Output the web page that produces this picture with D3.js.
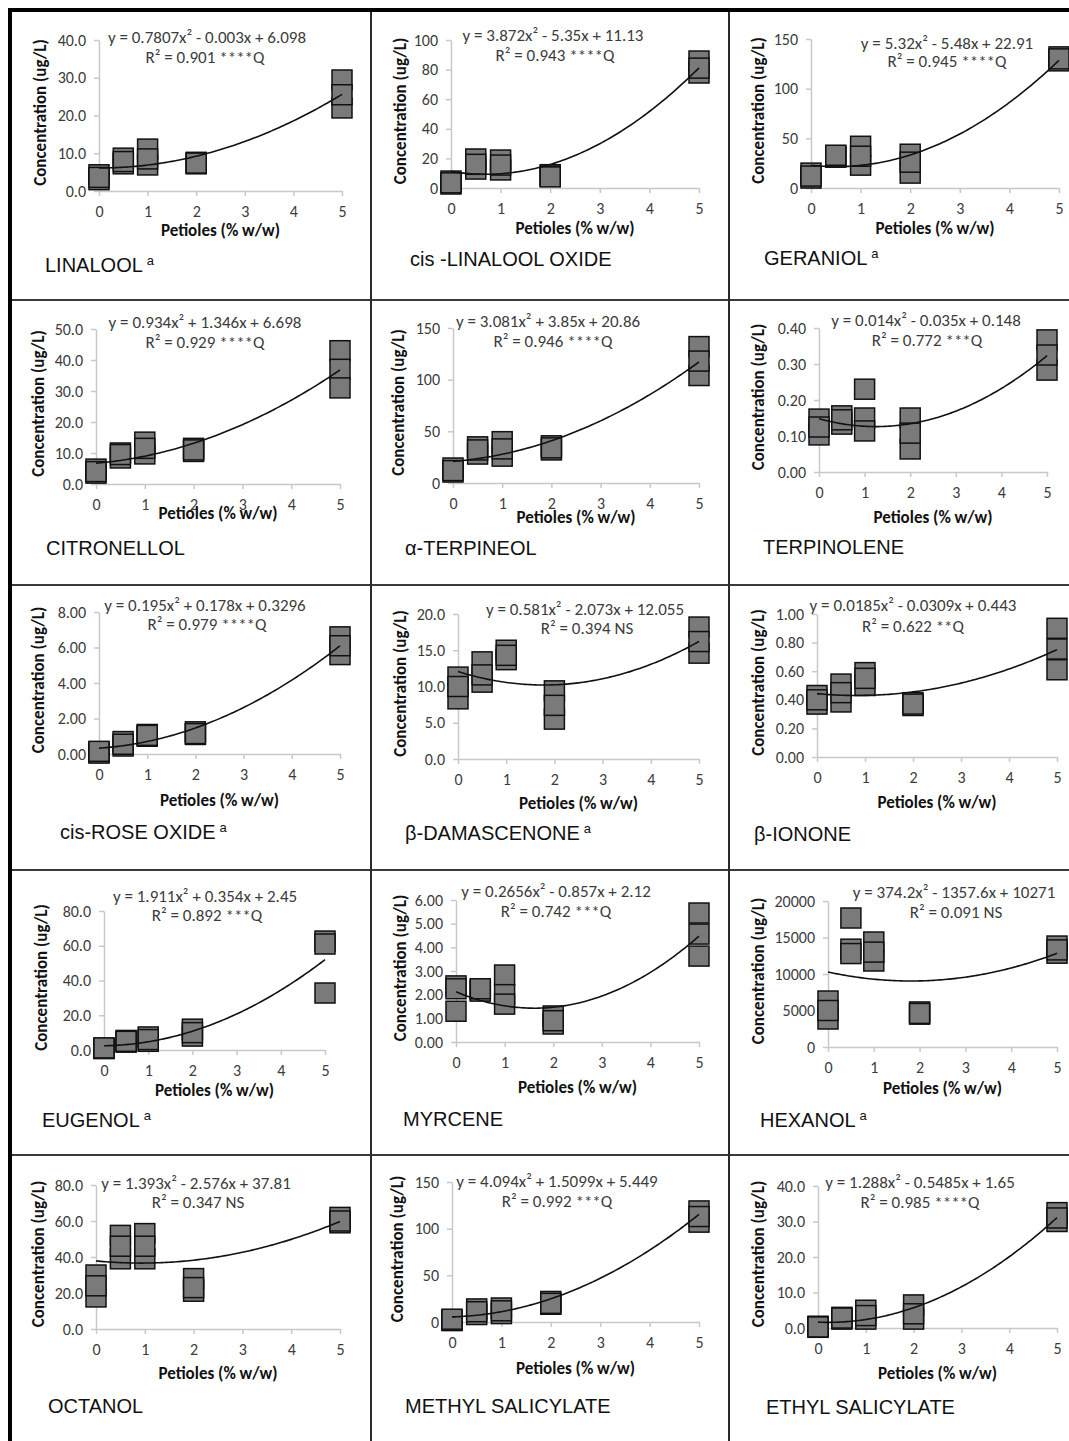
<!DOCTYPE html>
<html>
<head>
<meta charset="utf-8">
<script src="https://cdn.jsdelivr.net/npm/d3@7"></script>
<style>
  body { margin: 0; background: #fff; }
</style>
</head>
<body>
<svg id="fig" width="1069" height="1441"></svg>
<script>
// Petiole additions (% w/w) and the three replicate concentrations at each level
const doses = [0, 0.5, 1, 2, 5];

const compounds = [
  "LINALOOL", "cis -LINALOOL OXIDE", "GERANIOL",
  "CITRONELLOL", "\u03b1-TERPINEOL", "TERPINOLENE",
  "cis-ROSE OXIDE", "\u03b2-DAMASCENONE", "\u03b2-IONONE",
  "EUGENOL", "MYRCENE", "HEXANOL",
  "OCTANOL", "METHYL SALICYLATE", "ETHYL SALICYLATE"
];
const footnoteA = [true, false, true, false, false, false, true, true, false, true, false, true, false, false, false];

const linalool      = [[4.3, 3.0, 3.6], [8.7, 7.2, 7.8], [11.1, 6.9, 8.5], [7.6, 7.2, 7.4], [29.4, 22.0, 25.5]];
const linaloolOxide = [[4.7, 2.7, 3.5], [19.6, 12.8, 16.0], [18.9, 12.2, 15.5], [9.0, 8.0, 7.5], [85.8, 77.7, 81.0]];
const geraniol      = [[15, 10, 12], [32, 31, 33], [42, 23, 32], [34, 15, 26], [132, 128, 130]];
const citronellol   = [[4.8, 3.5, 4.0], [10.0, 8.4, 9.5], [13.5, 9.7, 11.5], [11.5, 10.5, 11.0], [43, 37, 31]];
const terpineol     = [[14.5, 10.6, 12], [35, 28, 32], [40, 26, 33], [36, 32, 34], [132, 104, 118]];
const terpinolene   = [[0.147, 0.103, 0.125], [0.156, 0.133, 0.145], [0.23, 0.15, 0.114], [0.15, 0.064, 0.108], [0.367, 0.283, 0.325]];
const roseOxide     = [[0.1, 0.05, 0.15], [0.7, 0.45, 0.55], [1.1, 1.0, 1.05], [1.25, 1.1, 1.15], [6.6, 5.6, 6.1]];
const damascenone   = [[11.3, 8.3, 10.0], [13.4, 10.6, 11.6], [15.0, 13.7, 14.3], [9.4, 5.5, 7.4], [18.2, 14.6, 16.2]];
const ionone        = [[0.43, 0.37, 0.40], [0.51, 0.385, 0.45], [0.59, 0.50, 0.55], [0.38, 0.36, 0.37], [0.90, 0.755, 0.61]];
const eugenol       = [[1.0, 0.8, 1.2], [5.5, 4.5, 5.0], [7.5, 5.0, 6.0], [12, 8, 10], [62.7, 61.0, 32.8]];
const myrcene       = [[2.37, 2.25, 1.3], [2.2, 2.15, 2.25], [2.83, 2.0, 1.6], [1.1, 0.76, 0.9], [5.45, 4.56, 3.63]];
const hexanol       = [[6300, 3835, 5000], [17670, 13400, 12800], [14380, 11780, 13000], [4800, 4500, 4600], [13830, 12850, 13300]];
const octanol       = [[30, 17.8, 24], [52, 39, 46], [53, 39, 46], [28, 21, 23], [62, 59, 60]];
const methylSal     = [[2, 1.5, 3], [14, 8, 11], [15, 9, 12], [22, 19, 20], [119, 107, 113]];
const ethylSal      = [[0.5, 0.2, 0.3], [3.0, 2.5, 2.8], [5.0, 2.5, 3.5], [6.5, 2.5, 4.0], [32.5, 30, 31]];

const replicates = [linalool, linaloolOxide, geraniol, citronellol, terpineol, terpinolene,
  roseOxide, damascenone, ionone, eugenol, myrcene, hexanol, octanol, methylSal, ethylSal];

// Quadratic fit coefficients [a, b, c] for y = a x^2 + b x + c
const coefficients = [
  [0.7807, -0.003, 6.098], [3.872, -5.35, 11.13], [5.32, -5.48, 22.91],
  [0.934, 1.346, 6.698], [3.081, 3.85, 20.86], [0.014, -0.035, 0.148],
  [0.195, 0.178, 0.3296], [0.581, -2.073, 12.055], [0.0185, -0.0309, 0.443],
  [1.911, 0.354, 2.45], [0.2656, -0.857, 2.12], [374.2, -1357.6, 10271],
  [1.393, -2.576, 37.81], [4.094, 1.5099, 5.449], [1.288, -0.5485, 1.65]
];
const equations = [
  "y = 0.7807x\u00b2 - 0.003x + 6.098", "y = 3.872x\u00b2 - 5.35x + 11.13", "y = 5.32x\u00b2 - 5.48x + 22.91",
  "y = 0.934x\u00b2 + 1.346x + 6.698", "y = 3.081x\u00b2 + 3.85x + 20.86", "y = 0.014x\u00b2 - 0.035x + 0.148",
  "y = 0.195x\u00b2 + 0.178x + 0.3296", "y = 0.581x\u00b2 - 2.073x + 12.055", "y = 0.0185x\u00b2 - 0.0309x + 0.443",
  "y = 1.911x\u00b2 + 0.354x + 2.45", "y = 0.2656x\u00b2 - 0.857x + 2.12", "y = 374.2x\u00b2 - 1357.6x + 10271",
  "y = 1.393x\u00b2 - 2.576x + 37.81", "y = 4.094x\u00b2 + 1.5099x + 5.449", "y = 1.288x\u00b2 - 0.5485x + 1.65"
];
const fitStats = [
  "R\u00b2 = 0.901 ****Q", "R\u00b2 = 0.943 ****Q", "R\u00b2 = 0.945 ****Q",
  "R\u00b2 = 0.929 ****Q", "R\u00b2 = 0.946 ****Q", "R\u00b2 = 0.772 ***Q",
  "R\u00b2 = 0.979 ****Q", "R\u00b2 = 0.394 NS", "R\u00b2 = 0.622 **Q",
  "R\u00b2 = 0.892 ***Q", "R\u00b2 = 0.742 ***Q", "R\u00b2 = 0.091 NS",
  "R\u00b2 = 0.347 NS", "R\u00b2 = 0.992 ***Q", "R\u00b2 = 0.985 ****Q"
];

// y-axis tick values and their label formats
const yTicks = [
  [0, 10, 20, 30, 40], [0, 20, 40, 60, 80, 100], [0, 50, 100, 150],
  [0, 10, 20, 30, 40, 50], [0, 50, 100, 150], [0, 0.1, 0.2, 0.3, 0.4],
  [0, 2, 4, 6, 8], [0, 5, 10, 15, 20], [0, 0.2, 0.4, 0.6, 0.8, 1.0],
  [0, 20, 40, 60, 80], [0, 1, 2, 3, 4, 5, 6], [0, 5000, 10000, 15000, 20000],
  [0, 20, 40, 60, 80], [0, 50, 100, 150], [0, 10, 20, 30, 40]
];
const yFormats = [".1f", "d", "d", ".1f", "d", ".2f", ".2f", ".1f", ".2f", ".1f", ".2f", "d", ".1f", "d", ".1f"];
const xTicks = [0, 1, 2, 3, 4, 5];

// Panel geometry: plot frame in page pixels and text anchors
const panelLayout = [
  { left: 99,  right: 342,  bottom: 191,  top: 40,   yTitleX: 40,  xTitleY: 230,  eq: [207, 37],   r2: [205, 57],   name: [45, 265] },
  { left: 451, right: 699,  bottom: 188,  top: 40,   yTitleX: 400, xTitleY: 228,  eq: [553, 35],   r2: [555, 55],   name: [410, 259] },
  { left: 811, right: 1059, bottom: 188,  top: 39,   yTitleX: 758, xTitleY: 228,  eq: [947, 43],   r2: [947, 61],   name: [764, 258] },
  { left: 96,  right: 340,  bottom: 484,  top: 329,  yTitleX: 38,  xTitleY: 513,  eq: [205, 322],  r2: [205, 342],  name: [46, 548] },
  { left: 453, right: 699,  bottom: 483,  top: 328,  yTitleX: 398, xTitleY: 517,  eq: [548, 321],  r2: [553, 341],  name: [405, 548] },
  { left: 819, right: 1047, bottom: 472,  top: 328,  yTitleX: 758, xTitleY: 517,  eq: [926, 320],  r2: [927, 340],  name: [763, 547] },
  { left: 99,  right: 340,  bottom: 754,  top: 612,  yTitleX: 38,  xTitleY: 800,  eq: [205, 605],  r2: [207, 624],  name: [60, 832] },
  { left: 458, right: 699,  bottom: 759,  top: 614,  yTitleX: 400, xTitleY: 803,  eq: [585, 609],  r2: [587, 628],  name: [405, 833] },
  { left: 817, right: 1057, bottom: 757,  top: 614,  yTitleX: 758, xTitleY: 802,  eq: [913, 605],  r2: [913, 626],  name: [754, 834] },
  { left: 104, right: 325,  bottom: 1050, top: 911,  yTitleX: 41,  xTitleY: 1090, eq: [205, 896],  r2: [207, 915],  name: [42, 1120] },
  { left: 456, right: 699,  bottom: 1042, top: 900,  yTitleX: 400, xTitleY: 1087, eq: [556, 891],  r2: [556, 911],  name: [403, 1119] },
  { left: 828, right: 1057, bottom: 1047, top: 901,  yTitleX: 758, xTitleY: 1088, eq: [954, 892],  r2: [956, 912],  name: [760, 1120] },
  { left: 96,  right: 340,  bottom: 1329, top: 1185, yTitleX: 38,  xTitleY: 1373, eq: [196, 1183], r2: [198, 1202], name: [48, 1406] },
  { left: 452, right: 699,  bottom: 1322, top: 1182, yTitleX: 397, xTitleY: 1368, eq: [557, 1181], r2: [557, 1201], name: [405, 1406] },
  { left: 818, right: 1057, bottom: 1328, top: 1186, yTitleX: 758, xTitleY: 1373, eq: [920, 1182], r2: [920, 1202], name: [766, 1407] }
];

const svg = d3.select("#fig");
const calibri = "Carlito, Lato, 'Open Sans', sans-serif";
const arial = "'Liberation Sans', Arial, sans-serif";
const markerSize = 20;

// Grid frame around the fifteen panels
const frame = svg.append("g");
[300, 585, 870, 1155].forEach(y =>
  frame.append("line").attr("x1", 10).attr("x2", 1069).attr("y1", y).attr("y2", y)
    .attr("stroke", "#3a3a3a").attr("stroke-width", 2));
[371, 729].forEach(x =>
  frame.append("line").attr("x1", x).attr("x2", x).attr("y1", 10).attr("y2", 1441)
    .attr("stroke", "#2a2a2a").attr("stroke-width", 2));
frame.append("line").attr("x1", 10).attr("x2", 10).attr("y1", 9).attr("y2", 1441)
  .attr("stroke", "#000").attr("stroke-width", 4);
frame.append("line").attr("x1", 8).attr("x2", 1069).attr("y1", 10).attr("y2", 10)
  .attr("stroke", "#000").attr("stroke-width", 4);

compounds.forEach((name, i) => {
  const L = panelLayout[i];
  const ticks = yTicks[i];
  const x = d3.scaleLinear().domain([0, 5]).range([L.left, L.right]);
  const y = d3.scaleLinear().domain([0, ticks[ticks.length - 1]]).range([L.bottom, L.top]);
  const g = svg.append("g");

  // axes
  const yAxis = g.append("g").attr("transform", `translate(${L.left},0)`)
    .call(d3.axisLeft(y).tickValues(ticks).tickFormat(d3.format(yFormats[i]))
      .tickSize(5).tickSizeOuter(0).tickPadding(8));
  const xAxis = g.append("g").attr("transform", `translate(0,${L.bottom})`)
    .call(d3.axisBottom(x).tickValues(xTicks).tickFormat(d3.format("d"))
      .tickSize(5).tickSizeOuter(0).tickPadding(10));
  [yAxis, xAxis].forEach(a => {
    a.select(".domain").attr("stroke", "#c8c8c8").attr("stroke-width", 1.5);
    a.selectAll(".tick line").attr("stroke", "#c8c8c8").attr("stroke-width", 1.5);
    a.selectAll(".tick text").attr("font-family", calibri).attr("font-size", 16).attr("fill", "#3c3c3c");
  });

  // axis titles
  g.append("text")
    .attr("transform", `translate(${L.yTitleX},${(L.top + L.bottom) / 2 - 3}) rotate(-90)`)
    .attr("text-anchor", "middle").attr("dominant-baseline", "central")
    .attr("font-family", calibri).attr("font-weight", "bold").attr("font-size", 17)
    .attr("fill", "#111").text("Concentration (ug/L)");
  g.append("text")
    .attr("x", (L.left + L.right) / 2).attr("y", L.xTitleY)
    .attr("text-anchor", "middle").attr("dominant-baseline", "central")
    .attr("font-family", calibri).attr("font-weight", "bold").attr("font-size", 17)
    .attr("fill", "#111").text("Petioles (% w/w)");

  // replicate markers
  const points = [];
  replicates[i].forEach((vals, k) => vals.forEach(v => points.push({ d: doses[k], v })));
  g.append("g").selectAll("rect").data(points).join("rect")
    .attr("x", p => x(p.d) - markerSize / 2)
    .attr("y", p => y(p.v) - markerSize / 2)
    .attr("width", markerSize).attr("height", markerSize)
    .attr("fill", "#7a7a7a").attr("stroke", "#111").attr("stroke-width", 1.5);

  // quadratic trend line from the fitted coefficients
  const [a, b, c] = coefficients[i];
  const curve = d3.range(0, 5.0001, 0.05).map(t => [t, a * t * t + b * t + c]);
  g.append("path").datum(curve)
    .attr("d", d3.line().x(p => x(p[0])).y(p => y(p[1])))
    .attr("fill", "none").attr("stroke", "#111").attr("stroke-width", 1.6);

  // equation and fit statistics
  g.append("text").attr("x", L.eq[0]).attr("y", L.eq[1])
    .attr("text-anchor", "middle").attr("dominant-baseline", "central")
    .attr("font-family", calibri).attr("font-size", 17).attr("fill", "#3c3c3c")
    .text(equations[i]);
  g.append("text").attr("x", L.r2[0]).attr("y", L.r2[1])
    .attr("text-anchor", "middle").attr("dominant-baseline", "central")
    .attr("font-family", calibri).attr("font-size", 17).attr("fill", "#3c3c3c")
    .text(fitStats[i]);

  // compound name
  const label = g.append("text").attr("x", L.name[0]).attr("y", L.name[1] + 7)
    .attr("font-family", arial).attr("font-size", 20).attr("fill", "#111");
  label.append("tspan").text(name);
  if (footnoteA[i]) {
    label.append("tspan").attr("dx", 4).attr("dy", -7).attr("font-size", 13).text("a");
  }
});
</script>
</body>
</html>
